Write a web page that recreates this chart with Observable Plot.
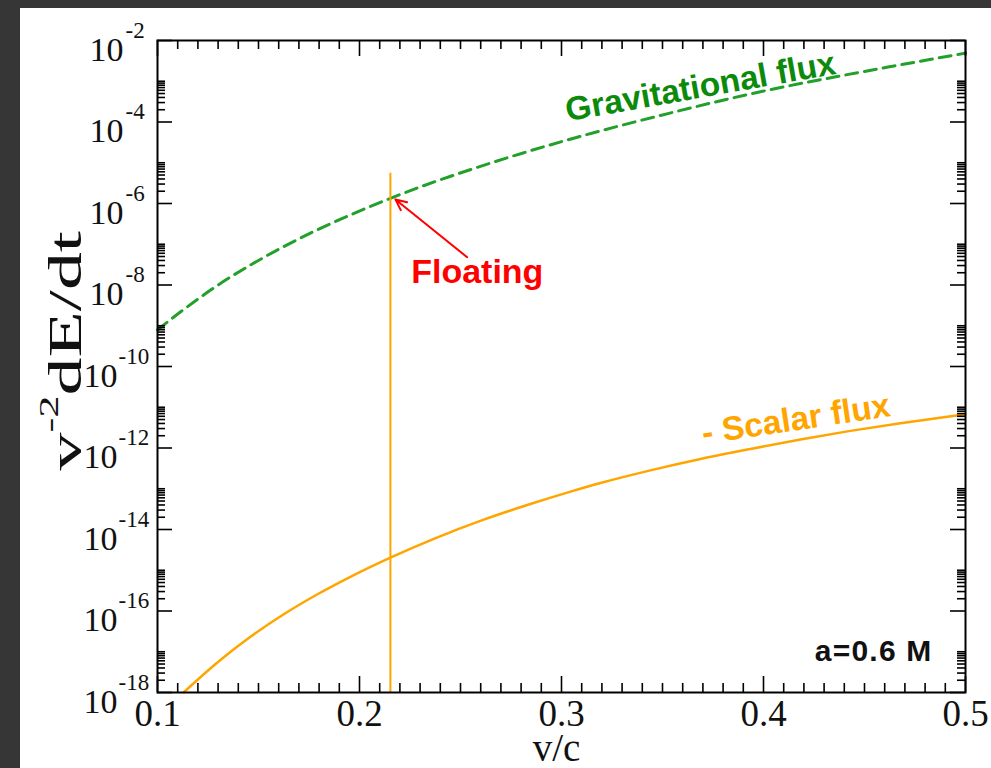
<!DOCTYPE html>
<html><head><meta charset="utf-8">
<script src="https://cdn.jsdelivr.net/npm/d3@7"></script>
<script src="https://cdn.jsdelivr.net/npm/@observablehq/plot@0.6"></script>
<style>
html,body{margin:0;padding:0;width:991px;height:768px;overflow:hidden;background:#363636;}
#panel{position:absolute;left:20px;top:8px;right:0;bottom:0;background:#fff;}
#chart{position:absolute;left:0;top:0;}
</style></head><body><div id="panel"></div><div id="chart"></div>
<script>
// Gravitational flux (green dashed)
const gravV = [0.100, 0.113, 0.130, 0.146, 0.162, 0.179, 0.196, 0.215, 0.237, 0.261, 0.281, 0.303, 0.349, 0.399, 0.440, 0.464, 0.500];
const gravF = [7.94e-10, 2.51e-9, 1.0e-8, 3.09e-8, 8.5e-8, 2.24e-7, 5.37e-7, 1.32e-6, 3.39e-6, 8.5e-6, 1.74e-5, 3.63e-5, 1.45e-4, 5.6e-4, 1.41e-3, 2.34e-3, 4.9e-3];
// - Scalar flux (orange solid)
const scalV = [0.1129, 0.1295, 0.146, 0.1625, 0.179, 0.1955, 0.2153, 0.2368, 0.2615, 0.283, 0.3045, 0.3193, 0.344, 0.3688, 0.3936, 0.4183, 0.443, 0.4678, 0.500];
const scalF = [1.0e-18, 5.37e-18, 2.32e-17, 8.3e-17, 2.54e-16, 6.9e-16, 2.04e-15, 5.9e-15, 1.74e-14, 3.98e-14, 8.5e-14, 1.38e-13, 2.82e-13, 5.37e-13, 9.5e-13, 1.62e-12, 2.63e-12, 4.07e-12, 6.76e-12];
// floating line
const floatV = [0.2153];
const floatTop = [5.5e-6];
// tick labels
const xTickLabels = ["0.1", "0.2", "0.3", "0.4", "0.5"];
const xMajor = [0.1, 0.2, 0.3, 0.4, 0.5];
const yMajorExp = [-2, -4, -6, -8, -10, -12, -14, -16, -18];
// annotations
const annTexts = ["Gravitational flux", "- Scalar flux", "Floating", "a=0.6 M"];

const grav = gravV.map((v, i) => ({v, f: gravF[i]}));
const scal = scalV.map((v, i) => ({v, f: scalF[i]}));
const xMinor = d3.range(11, 50).map(k => k / 100).filter(v => Math.round(v * 100) % 10 !== 0);
const yMajor = yMajorExp.map(e => ({val: Math.pow(10, e), exp: "-" + String(-e), two: -e >= 10}));
const yMinor = [];
yMajorExp.filter(e => e < -2).forEach(e => { for (let k = 2; k <= 10; k++) yMinor.push(k * Math.pow(10, e)); });

const W = 991, H = 768, mL = 157, mR = 26, mT = 40, mB = 76;
const pw = W - mL - mR, ph = H - mT - mB;
const serif = "Liberation Serif, Times New Roman, serif";
const sans = "Liberation Sans, Arial, Helvetica, sans-serif";
const green = "#22a02a", greenText = "#0c8a0c", orange = "#ffa500", red = "#ff0000";

const chart = Plot.plot({
  width: W, height: H,
  marginLeft: mL, marginRight: mR, marginTop: mT, marginBottom: mB,
  style: {background: "transparent", overflow: "visible"},
  x: {domain: [0.1, 0.5], axis: null},
  y: {type: "log", domain: [1e-18, 1e-2], axis: null},
  marks: [
    Plot.line(grav, {x: "v", y: "f", stroke: green, strokeWidth: 3, strokeDasharray: "12,7", curve: "monotone-x"}),
    Plot.line(scal, {x: "v", y: "f", stroke: orange, strokeWidth: 2.5, curve: "monotone-x"}),
    Plot.ruleX(floatV.map((v, i) => ({v, top: floatTop[i]})), {x: "v", y1: 1e-18, y2: "top", stroke: orange, strokeWidth: 2}),
    Plot.arrow([{x1: 0.2533, y1: 4.8e-8, x2: 0.2178, y2: 1.26e-6}], {x1: "x1", y1: "y1", x2: "x2", y2: "y2", stroke: red, strokeWidth: 2, headLength: 9, headAngle: 50}),
    // annotations
    Plot.text([annTexts[0]], {x: 0.3697, y: 4.0e-4, text: d => d, rotate: -10, textAnchor: "middle", lineAnchor: "bottom", fill: greenText, fontSize: 33.5, fontWeight: "bold", fontFamily: sans}),
    Plot.text([annTexts[1]], {x: 0.4168, y: 2.75e-12, text: d => d, rotate: -8.5, textAnchor: "middle", lineAnchor: "bottom", fill: orange, fontSize: 33.5, fontWeight: "bold", fontFamily: sans}),
    Plot.text([annTexts[2]], {x: 0.2583, y: 2.1e-8, text: d => d, textAnchor: "middle", lineAnchor: "middle", fill: red, fontSize: 34, fontWeight: "bold", fontFamily: sans}),
    Plot.text([annTexts[3]], {frameAnchor: "bottom-right", text: d => d, textAnchor: "end", lineAnchor: "bottom", dx: -33, dy: -32, fill: "#111", fontSize: 30, fontWeight: "bold", fontFamily: sans, ariaLabel: () => "spin"}),
    // y ticks (inward, both sides)
    Plot.ruleY(yMajor, {y: "val", insetRight: pw - 15, stroke: "black", strokeWidth: 1.6}),
    Plot.ruleY(yMajor, {y: "val", insetLeft: pw - 15, stroke: "black", strokeWidth: 1.6}),
    Plot.ruleY(yMinor, {y: d => d, insetRight: pw - 8, stroke: "black", strokeWidth: 1.6}),
    Plot.ruleY(yMinor, {y: d => d, insetLeft: pw - 8, stroke: "black", strokeWidth: 1.6}),
    // x ticks (inward, top and bottom)
    Plot.ruleX(xMajor, {x: d => d, insetTop: ph - 16, stroke: "black", strokeWidth: 1.6}),
    Plot.ruleX(xMajor, {x: d => d, insetBottom: ph - 16, stroke: "black", strokeWidth: 1.6}),
    Plot.ruleX(xMinor, {x: d => d, insetTop: ph - 9, stroke: "black", strokeWidth: 1.6}),
    Plot.ruleX(xMinor, {x: d => d, insetBottom: ph - 9, stroke: "black", strokeWidth: 1.6}),
    Plot.frame({stroke: "black", strokeWidth: 2}),
    // y tick labels 10^exp
    Plot.text(yMajor.filter(d => !d.two), {y: "val", text: () => "10", frameAnchor: "left", textAnchor: "end", lineAnchor: "bottom", dx: -34, dy: 20, fontSize: 34, fontFamily: serif, fill: "#111"}),
    Plot.text(yMajor.filter(d => d.two), {y: "val", text: () => "10", frameAnchor: "left", textAnchor: "end", lineAnchor: "bottom", dx: -40, dy: 20, fontSize: 34, fontFamily: serif, fill: "#111"}),
    Plot.text(yMajor.filter(d => !d.two), {y: "val", text: "exp", frameAnchor: "left", textAnchor: "start", lineAnchor: "bottom", dx: -32, dy: -3, fontSize: 23, fontFamily: serif, fill: "#111"}),
    Plot.text(yMajor.filter(d => d.two), {y: "val", text: "exp", frameAnchor: "left", textAnchor: "start", lineAnchor: "bottom", dx: -39, dy: -3, fontSize: 23, fontFamily: serif, fill: "#111"}),
    // x tick labels
    Plot.text(xMajor, {x: d => d, text: (d, i) => xTickLabels[i], frameAnchor: "bottom", textAnchor: "middle", lineAnchor: "bottom", dy: 33, fontSize: 37, fontFamily: serif, fill: "#111"}),
    // axis labels
    Plot.text(["v/c"], {frameAnchor: "bottom", text: d => d, textAnchor: "middle", lineAnchor: "bottom", dx: -5, dy: 68, fontSize: 39, fontFamily: serif, fill: "#111"}),
    Plot.text(["v"], {frameAnchor: "left", text: d => d, rotate: -90, textAnchor: "start", lineAnchor: "bottom", dx: -77, dy: 104, fontSize: 46, fontFamily: serif, fill: "#111", ariaLabel: () => "ylabel"}),
    Plot.text(["-2"], {frameAnchor: "left", text: d => d, rotate: -90, textAnchor: "start", lineAnchor: "bottom", dx: -100, dy: 66, fontSize: 27, fontFamily: serif, fill: "#111", ariaLabel: () => "ylabel"}),
    Plot.text(["dE/dt"], {frameAnchor: "left", text: d => d, rotate: -90, textAnchor: "start", lineAnchor: "bottom", dx: -77, dy: 29, fontSize: 46, fontFamily: serif, fill: "#111", ariaLabel: () => "ylabel"})
  ]
});
// the y-axis title is drawn stretched along its reading direction, as in the reference
d3.select(chart).selectAll('text[aria-label="ylabel"]').attr("transform", function () {
  const t = this.getAttribute("transform");
  return (t ? t + " " : "") + "scale(1.65,1)";
});
d3.select(chart).selectAll('text[aria-label="spin"]').style("letter-spacing", "1.2px");
document.getElementById("chart").appendChild(chart);
</script></body></html>
